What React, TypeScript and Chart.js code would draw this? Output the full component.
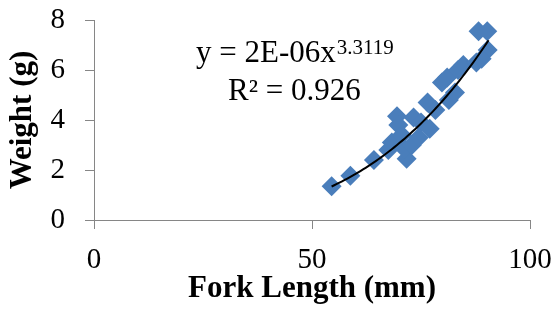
import React, { useEffect, useRef } from "react";
import { Chart, registerables } from "chart.js";

Chart.register(...registerables);

// Data
const forkLength = [54.5, 58.8, 64.2, 67.5, 68.3, 69.5, 69.8, 70.6, 71.7, 71.2, 72.9, 73.3, 74.5, 75.0, 76.5, 77.0, 78.3, 79.8, 81.0, 81.4, 82.8, 83.5, 84.7, 87.7, 88.2, 90.2, 90.3, 88.9];
const weight = [1.35, 1.77, 2.4, 2.8, 3.1, 4.15, 3.8, 3.4, 2.45, 2.85, 3.0, 4.1, 3.3, 3.9, 4.7, 3.65, 4.4, 5.5, 5.7, 4.8, 5.1, 6.0, 6.2, 6.3, 7.55, 7.55, 6.8, 6.45];

const xMin = 0;
const xMax = 100;
const xStep = 50;
const yMin = 0;
const yMax = 8;
const yStep = 2;

// Power trendline y = a * x^b
const trendA = 2.38e-6;
const trendB = 3.3119;
const trendStart = 54.5;
const trendEnd = 90.5;
const trendSamples = 60;

const equationText = "y = 2E-06x";
const exponentText = "3.3119";
const r2Text = "R² = 0.926";
const xTitle = "Fork Length (mm)";
const yTitle = "Weight (g)";

const SERIF = "'Liberation Serif', 'Times New Roman', serif";
const MARKER = "#4A7EBB";
const AXIS = "#868686";

export default function App() {
  const ref = useRef<HTMLCanvasElement | null>(null);

  useEffect(() => {
    document.body.style.margin = "0";
    const canvas = ref.current;
    if (!canvas) return;

    const scatter = forkLength.map((x, i) => ({ x, y: weight[i] }));
    const trend: { x: number; y: number }[] = [];
    for (let i = 0; i <= trendSamples; i++) {
      const x = trendStart + ((trendEnd - trendStart) * i) / trendSamples;
      trend.push({ x, y: trendA * Math.pow(x, trendB) });
    }

    const annotation = {
      id: "equationText",
      afterDraw(chart: any) {
        const ctx = chart.ctx as CanvasRenderingContext2D;
        ctx.save();
        ctx.fillStyle = "#000";
        ctx.textBaseline = "alphabetic";
        ctx.textAlign = "left";
        ctx.font = `31px ${SERIF}`;
        const x0 = 196;
        ctx.fillText(equationText, x0, 62);
        const w = ctx.measureText(equationText).width;
        ctx.font = `21px ${SERIF}`;
        ctx.fillText(exponentText, x0 + w + 1, 54);
        ctx.font = `31px ${SERIF}`;
        ctx.fillText(r2Text, 228, 100);
        ctx.restore();
      },
    };

    const chart = new Chart(canvas, {
      type: "scatter",
      data: {
        datasets: [
          {
            type: "line",
            data: trend,
            borderColor: "#000",
            borderWidth: 2,
            pointRadius: 0,
            fill: false,
            tension: 0,
          } as any,
          {
            data: scatter,
            pointStyle: "rectRot",
            pointRadius: 10,
            backgroundColor: MARKER,
            borderColor: MARKER,
            borderWidth: 0,
          },
        ],
      },
      options: {
        responsive: false,
        animation: false,
        devicePixelRatio: 1,
        layout: { padding: { left: 0, top: 20, right: 29, bottom: 0 } },
        plugins: {
          legend: { display: false },
          tooltip: { enabled: false },
        },
        scales: {
          x: {
            type: "linear",
            min: xMin,
            max: xMax,
            ticks: {
              stepSize: xStep,
              color: "#000",
              font: { family: SERIF, size: 29 },
              padding: 14,
              maxRotation: 0,
            },
            grid: {
              display: true,
              drawOnChartArea: false,
              drawTicks: true,
              tickLength: 9,
              color: AXIS,
              lineWidth: 1,
            },
            border: { display: true, color: AXIS, width: 1 },
            title: {
              display: true,
              text: xTitle,
              color: "#000",
              font: { family: SERIF, size: 31, weight: "bold" },
              padding: { top: 0, bottom: 13 },
            },
            afterFit(scale: any) {
              scale.height = 101;
              scale.paddingLeft = 0;
              scale.paddingRight = 0;
            },
          },
          y: {
            type: "linear",
            min: yMin,
            max: yMax,
            ticks: {
              stepSize: yStep,
              color: "#000",
              font: { family: SERIF, size: 29 },
              padding: 20,
            },
            grid: {
              display: true,
              drawOnChartArea: false,
              drawTicks: true,
              tickLength: 9,
              color: AXIS,
              lineWidth: 1,
            },
            border: { display: true, color: AXIS, width: 1 },
            title: {
              display: true,
              text: yTitle,
              color: "#000",
              font: { family: SERIF, size: 31, weight: "bold" },
              padding: { top: 4, bottom: 0 },
            },
            afterFit(scale: any) {
              scale.width = 94;
              scale.paddingTop = 0;
              scale.paddingBottom = 0;
            },
          },
        },
      },
      plugins: [annotation],
    });

    return () => chart.destroy();
  }, []);

  return (
    <div style={{ width: 559, height: 321 }}>
      <canvas ref={ref} width={559} height={321} />
    </div>
  );
}
